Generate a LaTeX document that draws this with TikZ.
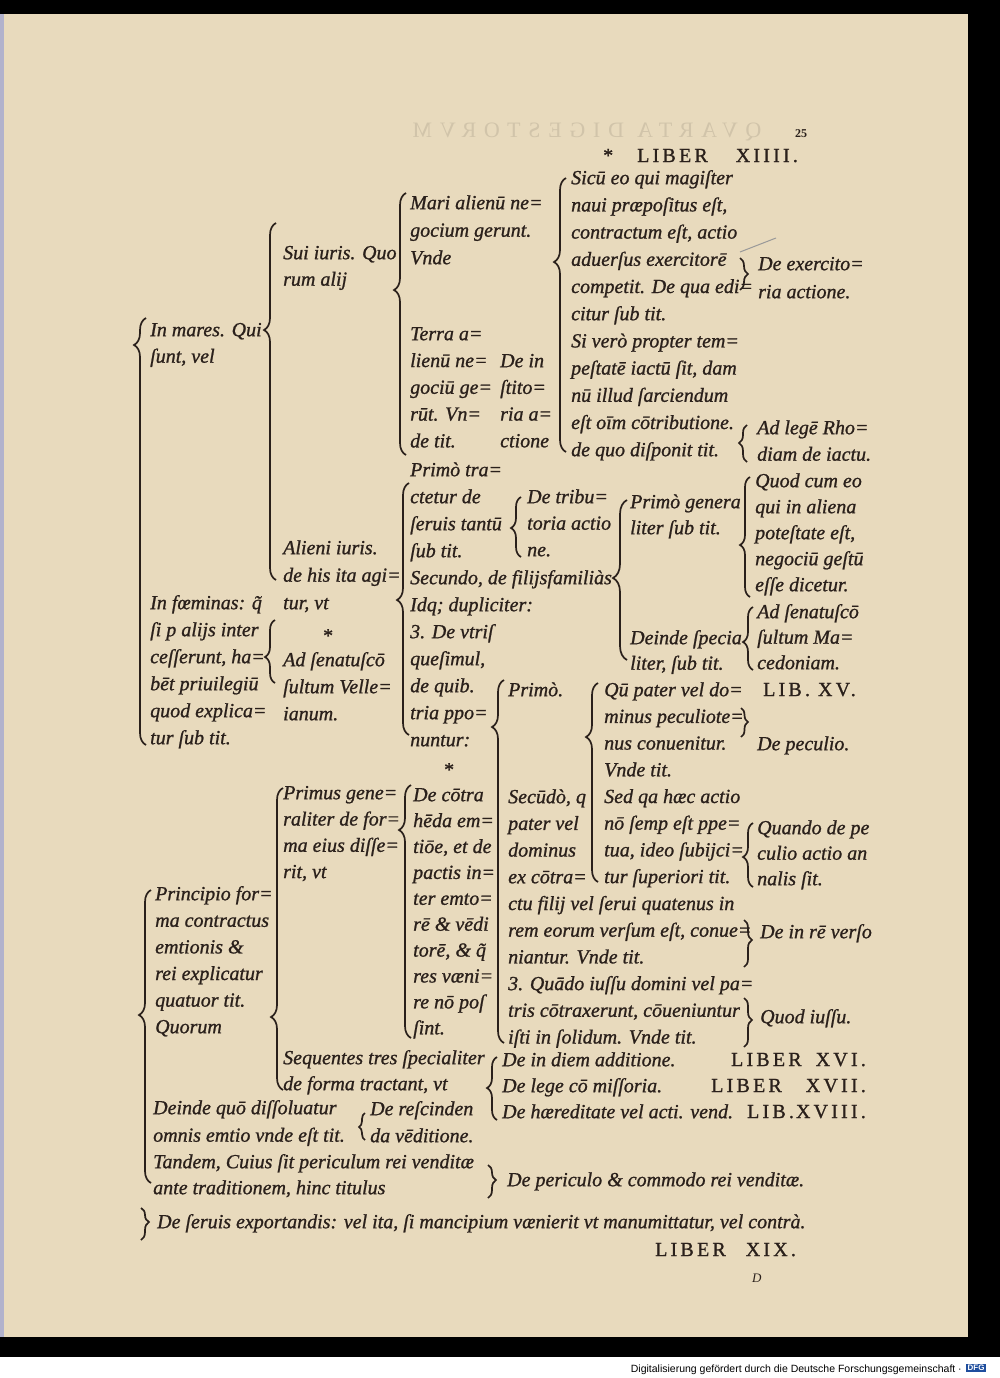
\documentclass[tikz,border=0pt]{standalone}
\usepackage{fontspec}
\setmainfont{Liberation Serif}
\newfontfamily\footfont{Liberation Sans}
\usetikzlibrary{decorations.pathreplacing}
\definecolor{paper}{HTML}{E8DABD}
\definecolor{ink}{HTML}{2A201B}
\definecolor{dfgblue}{HTML}{1F4E9E}
\begin{document}
\begin{tikzpicture}[x=1pt, y=-1pt,
        txt/.style={anchor=north west, yshift={0.7*#1pt}, inner sep=0pt, align=left, text=ink,
            font=\fontsize{20}{#1}\selectfont\itshape\addfontfeature{FakeBold=1}},
        txt/.default=26.5,
        lib/.style={anchor=base west, inner sep=0pt, text=ink,
            font=\fontsize{20}{26}\selectfont\addfontfeature{LetterSpace=16, FakeBold=1}},
        brc/.style={decorate, decoration={brace, amplitude=#1}, draw=ink, line width=1.7pt},
        brc/.default=12pt
    ]
        % Seite
        \useasboundingbox (0,0) rectangle (1000,1378);
        \fill[black] (0,0) rectangle (1000,1357);
        \fill[white] (0,1357) rectangle (1000,1378);
        \fill[paper] (4,14) rectangle (968,1337);
        \fill[blue!20!gray!50] (0,14) rectangle (4,1337);

        % Durchschlag der Rueckseite
        \node[xscale=-1, text=paper!90!black, inner sep=0pt,
            font=\fontsize{22}{22}\selectfont\addfontfeature{LetterSpace=35}] (durch) at (587,132) {QVARTA DIGESTORVM};

        % Kopfzeile
        \node[lib] (kopf) at (603,162) {*\hspace{24pt}LIBER\hspace{28pt}XIIII.};
        \node[anchor=base west, inner sep=0pt, text=ink,
            font=\fontsize{12}{12}\selectfont\bfseries] (pag) at (795,138) {25};

        % Spalte 1
        \node[txt] (mares) at (150,336) {\strut In mares. Qui\\ſunt, vel};
        \node[txt=27] (foem) at (150,609) {\strut In fœminas: q̃\\ſi p alijs inter\\ceſſerunt, ha=\\bēt priuilegiū\\quod explica=\\tur ſub tit.};
        \node[txt=26.6] (princ) at (155,900) {\strut Principio for=\\ma contractus\\emtionis \&\\rei explicatur\\quatuor tit.\\Quorum};
        \node[txt=27.5] (dissol) at (153,1114) {\strut Deinde quō diſſoluatur\\omnis emtio vnde eſt tit.};
        \node[txt=26] (tandem) at (153,1168) {\strut Tandem, Cuius ſit periculum rei venditæ\\ante traditionem, hinc titulus};
        \node[txt] (seruis) at (157,1228) {\strut De ſeruis exportandis: vel ita, ſi mancipium vænierit vt manumittatur, vel contrà.};

        % Spalte 2
        \node[txt] (sui) at (283,259) {\strut Sui iuris. Quo\\rum alij};
        \node[txt=27.5] (alieni) at (283,554) {\strut Alieni iuris.\\de his ita agi=\\tur, vt};
        \node[txt] (stern1) at (322,642) {\strut *};
        \node[txt=27] (velle) at (283,666) {\strut Ad ſenatuſcō\\ſultum Velle=\\ianum.};
        \node[txt=26.3] (primus) at (283,799) {\strut Primus gene=\\raliter de for=\\ma eius diſſe=\\rit, vt};
        \node[txt=26] (sequ) at (283,1064) {\strut Sequentes tres ſpecialiter\\de forma tractant, vt};
        \node[txt=27] (resc) at (370,1115) {\strut De reſcinden\\da vēditione.};

        % Spalte 3
        \node[txt=27.5] (mari) at (410,209) {\strut Mari alienū ne=\\gocium gerunt.\\Vnde};
        \node[txt=26.8] (terra) at (410,340) {\strut Terra a=\\lienū ne=\\gociū ge=\\rūt. Vn=\\de tit.};
        \node[txt=26.7] (instit) at (500,367) {\strut De in\\ſtito=\\ria a=\\ctione};
        \node[txt=27] (primo) at (410,476) {\strut Primò tra=\\ctetur de\\ſeruis tantū\\ſub tit.\\Secundo, de filijsfamiliàs\\Idq; dupliciter:\\3. De vtriſ\\queſimul,\\de quib.\\tria ppo=\\nuntur:};
        \node[txt=26.5] (tribut) at (527,503) {\strut De tribu=\\toria actio\\ne.};
        \node[txt] (stern2) at (443,776) {\strut *};
        \node[txt=25.9] (cotra) at (413,801) {\strut De cōtra\\hēda em=\\tiōe, et de\\pactis in=\\ter emto=\\rē \& vēdi\\torē, \& q̃\\res væni=\\re nō poſ\\ſint.};
        \node[txt] (primo2) at (508,696) {\strut Primò.};
        \node[txt=26.7] (secundo) at (508,803) {\strut Secūdò, q\\pater vel\\dominus\\ex cōtra=\\ctu filij vel ſerui quatenus in\\rem eorum verſum eſt, conue=\\niantur. Vnde tit.\\3. Quādo iuſſu domini vel pa=\\tris cōtraxerunt, cōueniuntur\\iſti in ſolidum. Vnde tit.};
        \node[txt=26] (indiem) at (502,1066) {\strut De in diem additione.\\De lege cō miſſoria.\\De hæreditate vel acti. vend.};
        \node[txt] (peric) at (507,1186) {\strut De periculo \& commodo rei venditæ.};

        % Spalte 4
        \node[txt=27.2] (sicu) at (571,184) {\strut Sicū eo qui magiſter\\naui præpoſitus eſt,\\contractum eſt, actio\\aduerſus exercitorē\\competit. De qua edi=\\citur ſub tit.\\Si verò propter tem=\\peſtatē iactū ſit, dam\\nū illud ſarciendum\\eſt oīm cōtributione.\\de quo diſponit tit.};
        \node[txt=26] (primgen) at (630,508) {\strut Primò genera\\liter ſub tit.};
        \node[txt=25.5] (deinde) at (630,644) {\strut Deinde ſpecia\\liter, ſub tit.};
        \node[txt=26.7] (qupater) at (604,696) {\strut Qū pater vel do=\\minus peculiote=\\nus conuenitur.\\Vnde tit.\\Sed qa hæc actio\\nō ſemp eſt ppe=\\tua, ideo ſubijci=\\tur ſuperiori tit.};

        % Spalte 5
        \node[txt=28] (exerc) at (758,270) {\strut De exercito=\\ria actione.};
        \node[txt=26.5] (rhod) at (757,434) {\strut Ad legē Rho=\\diam de iactu.};
        \node[txt=26] (quodcum) at (755,487) {\strut Quod cum eo\\qui in aliena\\poteſtate eſt,\\negociū geſtū\\eſſe dicetur.};
        \node[txt=25.5] (maced) at (757,618) {\strut Ad ſenatuſcō\\ſultum Ma=\\cedoniam.};
        \node[lib] (lib15) at (763,696) {LIB.\hspace{8pt}XV.};
        \node[txt] (pecul) at (757,750) {\strut De peculio.};
        \node[txt=25.5] (quando) at (757,834) {\strut Quando de pe\\culio actio an\\nalis ſit.};
        \node[txt] (inrem) at (760,938) {\strut De in rē verſo};
        \node[txt] (iussu) at (760,1023) {\strut Quod iuſſu.};

        % Buecher
        \foreach \t/\y [count=\i from 16] in {LIBER\hspace{14pt}XVI./1066, LIBER\hspace{24pt}XVII./1092, LIB.\hspace{2pt}XVIII./1118}
            \node[lib, anchor=base east] (lib\i) at (866,\y) {\t};
        \node[lib] (lib19) at (655,1256) {LIBER\hspace{20pt}XIX.};
        \node[anchor=base west, inner sep=0pt, text=ink,
            font=\fontsize{13}{13}\selectfont\itshape] (sig) at (752,1282) {D};

        % Klammern nach rechts offen
        \foreach \n/\x/\ya/\yb/\yt/\a in {A/146/318/745/345/12, B/276/223/580/330/12,
                C/406/193/455/290/12, D/566/178/452/262/12, E/409/483/735/600/12,
                F/521/497/557/528/10, G/627/500/660/578/14, H/750/477/597/545/10,
                I/753/607/670/642/10, J/598/683/882/737/12, K/753/823/887/857/10,
                L/504/680/1043/727/12, M/411/785/1038/830/12, N/283/788/1090/1017/12,
                O/497/1057/1120/1088/10, P/275/620/683/657/10, Q/151/890/1183/1015/12,
                R/365/1113/1140/1127/6, S/747/425/462/443/8} {
            \coordinate (k\n o) at (\x,\ya);
            \coordinate (k\n u) at (\x,\yb);
            \pgfmathsetmacro\asp{(\yb-\yt)/(\yb-\ya)}
            \draw[brc=\a pt, decoration={aspect=\asp}] (k\n u) -- (k\n o);
        }

        % Klammern nach links offen
        \foreach \n/\x/\ya/\yb/\yt/\a in {T/740/258/290/274/8, U/741/708/737/722/7,
                V/744/920/967/940/8, W/744/998/1047/1020/8, X/488/1165/1198/1180/8,
                Y/141/1208/1240/1222/8} {
            \coordinate (k\n o) at (\x,\ya);
            \coordinate (k\n u) at (\x,\yb);
            \pgfmathsetmacro\asp{(\yt-\ya)/(\yb-\ya)}
            \draw[brc=\a pt, decoration={aspect=\asp}] (k\n o) -- (k\n u);
        }

        % Bleistiftstrich
        \coordinate (blei1) at (740,252);
        \coordinate (blei2) at (776,238);
        \draw[gray!80, line width=1pt] (blei1) -- (blei2);

        % Fusszeile
        \node[anchor=base east, inner sep=0pt, font=\footfont\fontsize{10.5}{12}\selectfont] (fuss) at (962,1372) {Digitalisierung gefördert durch die Deutsche Forschungsgemeinschaft ·};
        \node[anchor=west, fill=dfgblue, text=white, inner sep=1.5pt,
            font=\footfont\bfseries\fontsize{8}{8}\selectfont] (dfg) at (966,1368) {DFG};

    \end{tikzpicture}
\end{document}
